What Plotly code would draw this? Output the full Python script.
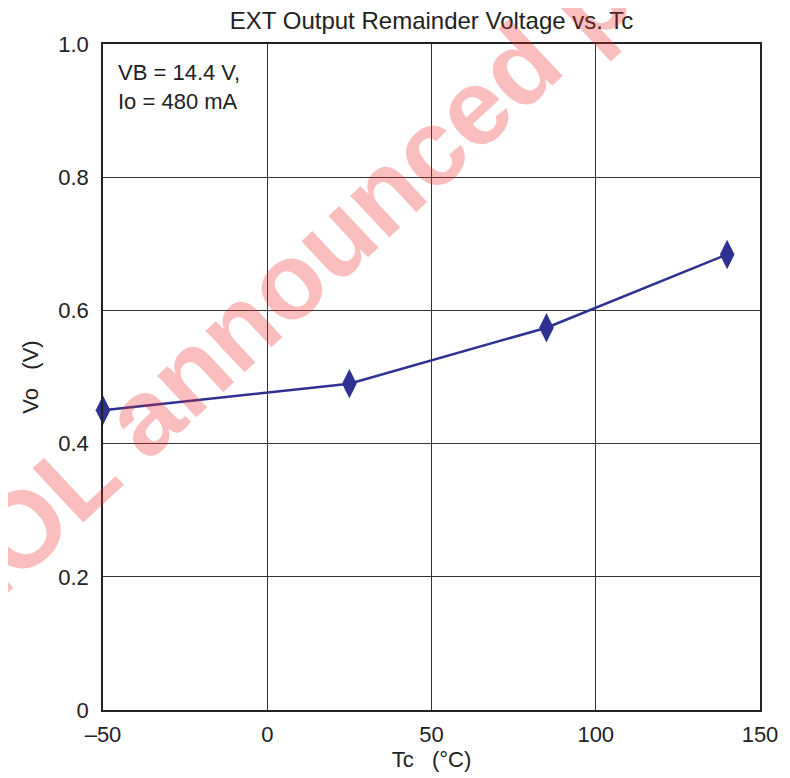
import plotly.graph_objects as go

# Data
tc = [-50, 25, 85, 140]
vo = [0.45, 0.49, 0.574, 0.684]

x_tickvals = [-50, 0, 50, 100, 150]
x_ticktext = ["\u201350", "0", "50", "100", "150"]
y_tickvals = [0, 0.2, 0.4, 0.6, 0.8, 1.0]
y_ticktext = ["0", "0.2", "0.4", "0.6", "0.8", "1.0"]

title_text = "EXT Output Remainder Voltage vs. Tc"
cond_text = "VB = 14.4 V,<br>Io = 480 mA"
watermark = "EOL announced product"

FONT = "Liberation Sans, Arial, sans-serif"
NAVY = "#2E3192"

fig = go.Figure()
fig.add_trace(go.Scatter(
    x=tc, y=vo, mode="lines+markers",
    line=dict(color=NAVY, width=2.5),
    marker=dict(symbol="diamond-tall", size=21, color=NAVY, line=dict(width=0)),
    showlegend=False, cliponaxis=False,
))

axis_common = dict(
    showline=True, linecolor="#222", linewidth=1.5, mirror=True,
    showgrid=True, gridcolor="#333", gridwidth=1,
    zeroline=False, ticks="", tickfont=dict(family=FONT, size=22, color="#222"),
)

fig.update_layout(
    width=782, height=770,
    margin=dict(l=95, r=24, t=36, b=68),
    paper_bgcolor="white", plot_bgcolor="white",
    font=dict(family=FONT, color="#222"),
    title=dict(text=title_text, x=0.5, xref="paper", xanchor="center",
               y=0.984, yref="container", yanchor="middle",
               font=dict(family=FONT, size=24, color="#222")),
    xaxis=dict(range=[-50, 150], tickvals=x_tickvals, ticktext=x_ticktext,
               ticklabelstandoff=4,
               title=dict(text="Tc   (\u00b0C)", font=dict(family=FONT, size=22, color="#222"), standoff=2),
               **axis_common),
    yaxis=dict(range=[0, 1.0], tickvals=y_tickvals, ticktext=y_ticktext,
               ticklabelstandoff=8,
               title=dict(text="Vo   (V)", font=dict(family=FONT, size=22, color="#222"), standoff=14),
               **axis_common),
)

fig.add_annotation(
    text=cond_text, xref="paper", yref="paper", x=0.02, y=0.979,
    xanchor="left", yanchor="top", align="left", showarrow=False,
    font=dict(family=FONT, size=22, color="#222"),
)

fig.add_annotation(
    text="<b>" + watermark + "</b>", xref="paper", yref="paper",
    x=0.4495, y=0.80, xanchor="center", yanchor="middle",
    textangle=-43, showarrow=False,
    font=dict(family=FONT, size=108, color="rgba(240,40,40,0.3)"),
)

fig.write_html("out.html")
